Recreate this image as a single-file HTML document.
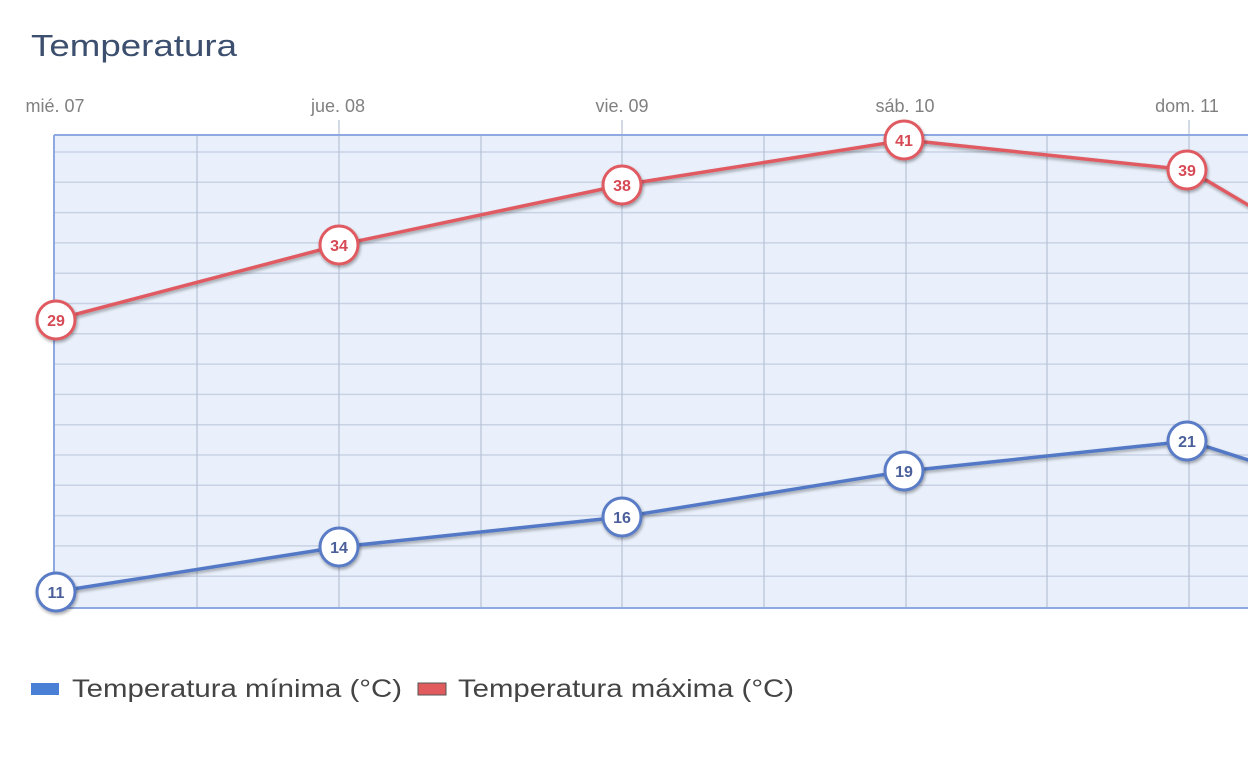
<!DOCTYPE html>
<html><head><meta charset="utf-8"><style>
html,body{margin:0;padding:0;background:#fff;}
svg{display:block;}
</style></head><body>
<svg width="1248" height="770" viewBox="0 0 1248 770" xmlns="http://www.w3.org/2000/svg" font-family="Liberation Sans, sans-serif">
<defs>
<filter id="sh" x="-10%" y="-10%" width="120%" height="130%">
<feGaussianBlur in="SourceAlpha" stdDeviation="1.5"/>
<feOffset dx="1" dy="2" result="b"/>
<feComponentTransfer><feFuncA type="linear" slope="0.35"/></feComponentTransfer>
<feMerge><feMergeNode/><feMergeNode in="SourceGraphic"/></feMerge>
</filter>
</defs>
<text x="31" y="56" font-size="31" fill="#3d4f6e" textLength="206" lengthAdjust="spacingAndGlyphs">Temperatura</text>
<g font-size="18" fill="#808080" text-anchor="middle">
<text x="55" y="112">mié. 07</text>
<text x="338" y="112">jue. 08</text>
<text x="622" y="112">vie. 09</text>
<text x="905" y="112">sáb. 10</text>
<text x="1187" y="112">dom. 11</text>
</g>
<rect x="54" y="135" width="1300" height="473" fill="#e9f0fb"/>
<g stroke="#c8d2e4" stroke-width="1.5">
<line x1="54" x2="1248" y1="152" y2="152"/>
<line x1="54" x2="1248" y1="182.3" y2="182.3"/>
<line x1="54" x2="1248" y1="212.6" y2="212.6"/>
<line x1="54" x2="1248" y1="242.9" y2="242.9"/>
<line x1="54" x2="1248" y1="273.2" y2="273.2"/>
<line x1="54" x2="1248" y1="303.5" y2="303.5"/>
<line x1="54" x2="1248" y1="333.8" y2="333.8"/>
<line x1="54" x2="1248" y1="364.1" y2="364.1"/>
<line x1="54" x2="1248" y1="394.4" y2="394.4"/>
<line x1="54" x2="1248" y1="424.7" y2="424.7"/>
<line x1="54" x2="1248" y1="455" y2="455"/>
<line x1="54" x2="1248" y1="485.3" y2="485.3"/>
<line x1="54" x2="1248" y1="515.6" y2="515.6"/>
<line x1="54" x2="1248" y1="545.9" y2="545.9"/>
<line x1="54" x2="1248" y1="576.2" y2="576.2"/>
</g>
<g stroke="#b6c2d6" stroke-width="1.2">
<line x1="197" x2="197" y1="135" y2="608"/>
<line x1="339" x2="339" y1="120" y2="608"/>
<line x1="481" x2="481" y1="135" y2="608"/>
<line x1="622" x2="622" y1="120" y2="608"/>
<line x1="764" x2="764" y1="135" y2="608"/>
<line x1="906" x2="906" y1="120" y2="608"/>
<line x1="1047" x2="1047" y1="135" y2="608"/>
<line x1="1189" x2="1189" y1="120" y2="608"/>
</g>
<line x1="54" x2="1248" y1="135" y2="135" stroke="#8ea9e2" stroke-width="2"/>
<line x1="54" x2="1248" y1="608" y2="608" stroke="#8ea9e2" stroke-width="2"/>
<line x1="54" x2="54" y1="135" y2="608" stroke="#8ea9e2" stroke-width="2"/>
<g filter="url(#sh)">
<polyline fill="none" stroke="#e05a62" stroke-width="3.5" points="54,320 339,245 622,185 906,140 1189,170 1473,338"/>
<polyline fill="none" stroke="#5378c6" stroke-width="3.5" points="54,592 339,547 622,517 906,471 1189,441 1473,532"/>
</g>
<g font-size="16" font-weight="bold" text-anchor="middle">
<g stroke="#e05a62" stroke-width="3" fill="#fff" filter="url(#sh)">
<circle cx="56" cy="320" r="19"/><circle cx="339" cy="245" r="19"/><circle cx="622" cy="185" r="19"/><circle cx="904" cy="140" r="19"/><circle cx="1187" cy="170" r="19"/>
</g>
<g fill="#d64a55">
<text x="56" y="326">29</text><text x="339" y="251">34</text><text x="622" y="191">38</text><text x="904" y="146">41</text><text x="1187" y="176">39</text>
</g>
<g stroke="#5a7cc6" stroke-width="3" fill="#fff" filter="url(#sh)">
<circle cx="56" cy="592" r="19"/><circle cx="339" cy="547" r="19"/><circle cx="622" cy="517" r="19"/><circle cx="904" cy="471" r="19"/><circle cx="1187" cy="441" r="19"/>
</g>
<g fill="#4b609a">
<text x="56" y="598">11</text><text x="339" y="553">14</text><text x="622" y="523">16</text><text x="904" y="477">19</text><text x="1187" y="447">21</text>
</g>
</g>
<rect x="31" y="683" width="28" height="12" fill="#4a7fd6"/>
<text x="72" y="697" font-size="25" fill="#444" textLength="330" lengthAdjust="spacingAndGlyphs">Temperatura mínima (°C)</text>
<rect x="418" y="683" width="28" height="12" fill="#e05a5e" stroke="#555" stroke-width="1"/>
<text x="458" y="697" font-size="25" fill="#444" textLength="336" lengthAdjust="spacingAndGlyphs">Temperatura máxima (°C)</text>
</svg>
</body></html>
